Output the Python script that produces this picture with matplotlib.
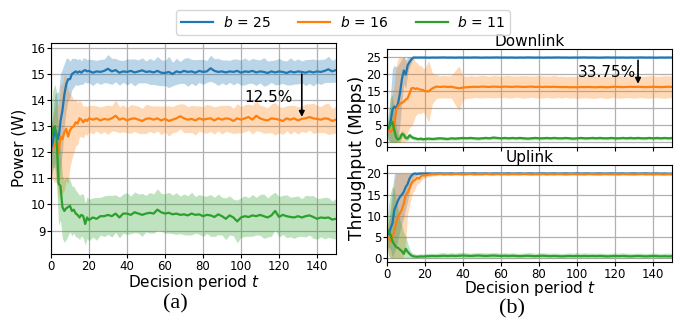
import matplotlib
matplotlib.use("Agg")
import matplotlib.pyplot as plt
import numpy as np

# decision periods: every step for t<20, every 2 steps afterwards
t_early = list(range(0, 20))
t_late = list(range(20, 151, 2))
t = np.array(t_early + t_late)

labels = ["$b$ = 25", "$b$ = 16", "$b$ = 11"]
colors = ["#1f77b4", "#ff7f0e", "#2ca02c"]

# ---------------- (a) Power (W) ----------------
pow25_mean = [12.0, 12.4, 12.9, 12.7, 12.5, 13.2, 13.6, 14.2, 14.6, 14.8,
              14.8, 15.0, 15.05, 15.1, 15.05, 15.1, 15.05, 15.12, 15.15, 15.1] + [
    15.12, 15.05, 15.10, 15.08, 15.12, 15.20, 15.10, 15.15, 15.05, 15.10, 15.08,
    15.12, 15.06, 15.10, 15.14, 15.08, 15.10, 15.06, 15.12, 15.05, 15.04, 15.08,
    15.00, 15.10, 15.06, 15.12, 15.08, 15.10, 15.05, 15.12, 15.08, 15.10, 15.22,
    15.12, 15.08, 15.10, 15.06, 15.10, 15.08, 15.12, 15.05, 15.10, 15.08, 15.12,
    15.06, 15.10, 15.08, 15.04, 15.10, 15.06, 15.10, 15.08, 15.04, 15.10, 15.06,
    15.10, 15.08, 15.05, 15.10, 15.06, 15.10, 15.08, 15.12, 15.18, 15.10, 15.15]
pow25_std = [1.0, 1.1, 1.3, 1.6, 1.8, 1.8, 1.6, 1.2, 1.0, 0.8,
             0.7, 0.6, 0.55, 0.5, 0.5, 0.5, 0.45, 0.5, 0.45, 0.45] + [
    0.45, 0.50, 0.42, 0.48, 0.45, 0.55, 0.50, 0.45, 0.48, 0.42, 0.50,
    0.45, 0.52, 0.44, 0.48, 0.42, 0.50, 0.46, 0.55, 0.50, 0.48, 0.60,
    0.45, 0.50, 0.42, 0.48, 0.55, 0.46, 0.50, 0.44, 0.48, 0.42, 0.50,
    0.46, 0.52, 0.44, 0.48, 0.42, 0.50, 0.45, 0.48, 0.52, 0.44, 0.48,
    0.50, 0.44, 0.55, 0.46, 0.42, 0.48, 0.50, 0.44, 0.46, 0.52, 0.45,
    0.48, 0.42, 0.50, 0.46, 0.52, 0.44, 0.48, 0.45, 0.50, 0.42, 0.46]

pow16_mean = [12.10, 12.15, 12.25, 12.45, 11.95, 12.60, 12.50, 12.75, 12.90, 12.60,
              12.85, 12.95, 13.00, 13.15, 13.10, 13.30, 13.25, 13.15, 13.25, 13.20] + [
    13.30, 13.25, 13.30, 13.22, 13.28, 13.25, 13.30, 13.40, 13.25, 13.30, 13.22,
    13.28, 13.30, 13.25, 13.20, 13.28, 13.30, 13.25, 13.30, 13.22, 13.28, 13.20,
    13.25, 13.30, 13.38, 13.30, 13.25, 13.28, 13.22, 13.30, 13.25, 13.28, 13.30,
    13.22, 13.30, 13.25, 13.30, 13.28, 13.20, 13.30, 13.25, 13.30, 13.35, 13.25,
    13.40, 13.30, 13.25, 13.22, 13.30, 13.28, 13.25, 13.20, 13.30, 13.25, 13.30,
    13.22, 13.28, 13.30, 13.35, 13.30, 13.28, 13.25, 13.30, 13.28, 13.20, 13.25]
pow16_std = [1.0, 1.2, 1.4, 1.6, 1.8, 2.0, 2.1, 2.2, 2.0, 1.8,
             1.4, 1.2, 1.0, 0.9, 0.8, 0.7, 0.65, 0.6, 0.55, 0.55] + [
    0.50, 0.55, 0.48, 0.52, 0.50, 0.56, 0.48, 0.60, 0.50, 0.52, 0.48,
    0.55, 0.50, 0.52, 0.48, 0.56, 0.50, 0.52, 0.48, 0.55, 0.50, 0.58,
    0.50, 0.52, 0.48, 0.55, 0.50, 0.52, 0.56, 0.48, 0.50, 0.55, 0.50,
    0.52, 0.48, 0.55, 0.50, 0.52, 0.48, 0.56, 0.50, 0.52, 0.50, 0.55,
    0.58, 0.50, 0.52, 0.48, 0.55, 0.62, 0.50, 0.52, 0.48, 0.55, 0.50,
    0.52, 0.48, 0.55, 0.50, 0.58, 0.52, 0.50, 0.55, 0.60, 0.48, 0.52]

pow11_mean = [12.60, 12.90, 13.00, 12.50, 10.80, 10.70, 9.90, 9.75, 9.85, 9.90,
              9.95, 9.75, 9.80, 9.65, 9.60, 9.50, 9.60, 9.55, 9.25, 9.50] + [
    9.40, 9.50, 9.45, 9.55, 9.55, 9.60, 9.55, 9.65, 9.50, 9.65, 9.65,
    9.60, 9.70, 9.65, 9.60, 9.65, 9.68, 9.65, 9.80, 9.70, 9.65, 9.68,
    9.62, 9.65, 9.60, 9.62, 9.58, 9.65, 9.60, 9.62, 9.55, 9.60, 9.58,
    9.52, 9.62, 9.55, 9.45, 9.58, 9.50, 9.35, 9.50, 9.55, 9.52, 9.58,
    9.55, 9.60, 9.55, 9.50, 9.58, 9.75, 9.52, 9.60, 9.55, 9.52, 9.50,
    9.55, 9.50, 9.55, 9.58, 9.52, 9.45, 9.50, 9.48, 9.50, 9.42, 9.45]
pow11_std = [1.0, 1.5, 1.6, 1.8, 1.6, 1.3, 1.2, 1.2, 1.2, 1.1,
             1.0, 0.95, 0.9, 0.9, 0.85, 0.85, 0.8, 0.85, 0.8, 0.8] + [
    0.80, 0.75, 0.82, 0.72, 0.78, 0.75, 0.80, 0.72, 0.78, 0.75, 0.80,
    0.72, 0.78, 0.75, 0.82, 0.70, 0.78, 0.75, 0.80, 0.72, 0.76, 0.78,
    0.74, 0.80, 0.72, 0.78, 0.75, 0.82, 0.70, 0.76, 0.78, 0.72, 0.80,
    0.75, 0.78, 0.72, 0.80, 0.75, 0.70, 0.82, 0.76, 0.78, 0.74, 0.80,
    0.72, 0.78, 0.85, 0.75, 0.80, 0.72, 0.78, 0.75, 0.82, 0.76, 0.80,
    0.78, 0.72, 0.80, 0.75, 0.82, 0.78, 0.74, 0.80, 0.76, 0.72, 0.78]

# ---------------- (b) Downlink throughput (Mbps) ----------------
dl25_mean = [3.5, 4.0, 6.0, 9.5, 10.5, 10.0, 11.5, 14.5, 18.5, 21.0,
             19.8, 22.5, 23.5, 24.3, 24.8, 24.8, 24.78, 24.8, 24.8, 24.78] + [
    24.80, 24.75, 24.80, 24.78, 24.80, 24.82, 24.78, 24.80, 24.76, 24.80, 24.78,
    24.80, 24.78, 24.82, 24.80, 24.76, 24.80, 24.78, 24.80, 24.82, 24.78, 24.80,
    24.78, 24.80, 24.76, 24.80, 24.78, 24.82, 24.80, 24.78, 24.80, 24.76, 24.80,
    24.78, 24.80, 24.82, 24.78, 24.80, 24.76, 24.80, 24.78, 24.80, 24.82, 24.78,
    24.80, 24.78, 24.76, 24.80, 24.82, 24.78, 24.80, 24.78, 24.80, 24.76, 24.80,
    24.78, 24.80, 24.82, 24.78, 24.80, 24.78, 24.76, 24.80, 24.78, 24.80, 24.78]
dl25_std = [1.0, 3.0, 8.0, 12.0, 12.0, 12.0, 11.0, 9.0, 6.0, 4.0,
            4.0, 2.5, 1.5, 0.8, 0.3, 0.2, 0.2, 0.2, 0.2, 0.2] + [
    0.20, 0.18, 0.20, 0.22, 0.20, 0.18, 0.20, 0.22, 0.20, 0.18, 0.20,
    0.22, 0.20, 0.18, 0.20, 0.22, 0.20, 0.18, 0.20, 0.22, 0.20, 0.18,
    0.20, 0.22, 0.20, 0.18, 0.20, 0.22, 0.20, 0.18, 0.20, 0.22, 0.20,
    0.18, 0.20, 0.22, 0.20, 0.18, 0.20, 0.22, 0.20, 0.18, 0.20, 0.22,
    0.20, 0.18, 0.20, 0.22, 0.20, 0.18, 0.20, 0.22, 0.20, 0.18, 0.20,
    0.22, 0.20, 0.18, 0.20, 0.22, 0.20, 0.18, 0.20, 0.22, 0.20, 0.18]

dl16_mean = [4.6, 3.8, 3.1, 3.6, 5.0, 9.4, 10.5, 11.4, 11.5, 11.9,
             12.5, 12.9, 14.3, 15.8, 15.9, 15.6, 15.8, 15.5, 15.4, 15.3] + [
    15.0, 14.9, 15.8, 16.3, 16.2, 16.3, 16.2, 16.25, 16.0, 15.8, 16.0,
    16.1, 16.2, 16.25, 16.2, 16.3, 16.25, 16.2, 16.3, 16.25, 16.2, 16.3,
    16.25, 16.2, 16.3, 16.25, 16.2, 16.25, 16.3, 16.2, 16.25, 16.2, 16.25,
    16.2, 16.25, 16.2, 16.15, 16.2, 16.1, 16.15, 16.1, 16.2, 16.15, 16.2,
    16.15, 16.1, 16.2, 16.15, 16.1, 16.2, 16.25, 16.2, 16.15, 16.2, 16.25,
    16.2, 16.25, 16.2, 16.15, 16.2, 16.25, 16.2, 16.15, 16.2, 16.25, 16.2]
dl16_std = [1.0, 3.0, 6.0, 10.0, 12.0, 13.0, 14.0, 14.0, 14.0, 13.5,
            12.0, 10.0, 10.0, 11.0, 10.0, 8.0, 7.5, 7.0, 7.0, 6.5] + [
    6.5, 9.0, 4.5, 3.5, 3.2, 3.3, 3.2, 3.3, 5.0, 6.5, 3.5,
    3.2, 3.3, 3.1, 3.2, 3.3, 3.2, 3.1, 3.3, 3.2, 3.1, 3.2,
    3.3, 3.2, 3.1, 3.2, 3.3, 3.2, 3.1, 3.2, 3.3, 3.2, 3.1,
    3.2, 3.3, 3.1, 3.2, 3.0, 3.2, 3.1, 3.3, 3.2, 3.1, 3.2,
    3.3, 3.2, 3.1, 3.2, 3.3, 3.1, 3.2, 3.3, 3.2, 3.1, 3.2,
    3.3, 3.2, 3.1, 3.2, 3.3, 3.2, 3.1, 3.2, 3.3, 3.2, 3.1]

dl11_mean = [3.8, 4.2, 5.2, 6.0, 3.5, 1.4, 0.8, 1.2, 2.5, 2.2,
             1.3, 1.2, 2.1, 1.6, 1.3, 1.2, 1.0, 1.0, 1.1, 0.9] + [
    1.0, 1.1, 1.0, 1.1, 1.2, 1.1, 1.0, 1.2, 1.1, 1.2, 1.3,
    1.2, 1.3, 1.2, 1.1, 1.2, 1.3, 1.2, 1.4, 1.3, 1.2, 1.3,
    1.2, 1.3, 1.2, 1.3, 1.2, 1.1, 1.2, 1.3, 1.2, 1.2, 1.3,
    1.2, 1.3, 1.2, 1.2, 1.3, 1.2, 1.1, 1.2, 1.3, 1.2, 1.2,
    1.3, 1.2, 1.3, 1.2, 1.2, 1.3, 1.2, 1.2, 1.3, 1.2, 1.3,
    1.2, 1.3, 1.2, 1.2, 1.3, 1.2, 1.3, 1.2, 1.3, 1.2, 1.3]
dl11_std = [2.0, 5.0, 8.0, 8.0, 5.0, 3.0, 1.5, 1.2, 1.0, 0.9,
            0.8, 0.7, 0.7, 0.6, 0.6, 0.5, 0.5, 0.5, 0.5, 0.5] + [
    0.45, 0.50, 0.42, 0.48, 0.45, 0.50, 0.42, 0.48, 0.45, 0.50, 0.45,
    0.42, 0.48, 0.45, 0.50, 0.42, 0.48, 0.45, 0.50, 0.42, 0.48, 0.45,
    0.50, 0.42, 0.48, 0.45, 0.50, 0.42, 0.48, 0.45, 0.50, 0.42, 0.48,
    0.45, 0.50, 0.42, 0.48, 0.45, 0.50, 0.42, 0.48, 0.45, 0.50, 0.42,
    0.48, 0.45, 0.50, 0.42, 0.48, 0.45, 0.50, 0.42, 0.48, 0.45, 0.50,
    0.42, 0.48, 0.45, 0.50, 0.42, 0.48, 0.45, 0.50, 0.42, 0.48, 0.45]

# ---------------- (b) Uplink throughput (Mbps) ----------------
ul25_mean = [4.3, 5.5, 7.0, 8.2, 11.4, 12.5, 13.7, 14.5, 15.0, 15.7,
             16.8, 17.5, 18.8, 19.5, 19.9, 20.0, 19.9, 20.0, 20.0, 20.0] + [
    20.00, 20.02, 19.98, 20.00, 20.03, 19.98, 20.00, 20.02, 19.97, 20.00, 20.02,
    19.98, 20.00, 20.03, 19.98, 20.00, 20.02, 19.97, 20.00, 20.02, 19.98, 20.00,
    20.03, 19.98, 20.00, 20.02, 19.97, 20.00, 20.02, 19.98, 20.00, 20.03, 19.98,
    20.00, 20.02, 19.97, 20.00, 20.02, 19.98, 20.00, 20.03, 19.98, 20.00, 20.02,
    19.97, 20.00, 20.02, 19.98, 20.00, 20.03, 19.98, 20.00, 20.02, 19.97, 20.00,
    20.02, 19.98, 20.00, 20.03, 19.98, 20.00, 20.02, 19.97, 20.00, 19.95, 19.98]
ul25_std = [1.5, 3.0, 5.0, 8.0, 10.0, 10.0, 9.0, 8.0, 7.0, 6.0,
            5.0, 4.0, 3.0, 2.0, 1.0, 0.5, 0.3, 0.3, 0.3, 0.25] + [
    0.20, 0.22, 0.18, 0.20, 0.22, 0.18, 0.20, 0.22, 0.18, 0.20, 0.22,
    0.18, 0.20, 0.22, 0.18, 0.20, 0.22, 0.18, 0.20, 0.22, 0.18, 0.20,
    0.22, 0.18, 0.20, 0.22, 0.18, 0.20, 0.22, 0.18, 0.20, 0.22, 0.18,
    0.20, 0.22, 0.18, 0.20, 0.22, 0.18, 0.20, 0.22, 0.18, 0.20, 0.22,
    0.18, 0.20, 0.22, 0.18, 0.20, 0.22, 0.18, 0.20, 0.22, 0.18, 0.20,
    0.22, 0.18, 0.20, 0.22, 0.18, 0.20, 0.22, 0.18, 0.20, 0.22, 0.18]

ul16_mean = [5.5, 5.0, 3.9, 5.0, 6.3, 8.5, 9.8, 10.6, 11.5, 12.9,
             14.9, 15.5, 16.5, 17.6, 18.2, 18.5, 19.0, 18.8, 19.3, 19.6] + [
    19.50, 19.70, 19.80, 19.80, 19.90, 19.80, 19.85, 19.80, 19.90, 19.85, 19.80,
    19.85, 19.90, 19.80, 19.85, 19.82, 19.90, 19.85, 19.80, 19.88, 19.82, 19.85,
    19.80, 19.88, 19.85, 19.82, 19.90, 19.85, 19.80, 19.85, 19.82, 19.88, 19.80,
    19.85, 19.82, 19.88, 19.85, 19.80, 19.85, 19.88, 19.82, 19.85, 19.80, 19.88,
    19.85, 19.82, 19.80, 19.88, 19.85, 19.82, 19.85, 19.80, 19.88, 19.85, 19.82,
    19.80, 19.85, 19.88, 19.82, 19.85, 19.80, 19.85, 19.82, 19.78, 19.85, 19.80]
ul16_std = [2.0, 4.0, 6.0, 9.0, 12.0, 12.0, 12.0, 12.0, 12.0, 12.0,
            11.0, 5.0, 4.0, 3.0, 2.5, 2.0, 1.5, 1.2, 1.0, 0.8] + [
    0.60, 0.50, 0.40, 0.35, 0.30, 0.32, 0.28, 0.30, 0.32, 0.28, 0.30,
    0.32, 0.28, 0.30, 0.32, 0.28, 0.30, 0.32, 0.28, 0.30, 0.32, 0.28,
    0.30, 0.32, 0.28, 0.30, 0.32, 0.28, 0.30, 0.32, 0.28, 0.30, 0.32,
    0.28, 0.30, 0.32, 0.28, 0.30, 0.32, 0.28, 0.30, 0.32, 0.28, 0.30,
    0.32, 0.28, 0.30, 0.32, 0.28, 0.30, 0.32, 0.28, 0.30, 0.32, 0.28,
    0.30, 0.32, 0.28, 0.30, 0.32, 0.28, 0.30, 0.32, 0.28, 0.30, 0.32]

ul11_mean = [6.0, 6.5, 5.5, 4.0, 3.2, 2.6, 2.4, 2.0, 1.6, 1.0,
             2.2, 1.5, 1.0, 0.6, 0.4, 0.35, 0.3, 0.35, 0.4, 0.35] + [
    0.40, 0.45, 0.50, 0.45, 0.50, 0.55, 0.50, 0.55, 0.50, 0.55, 0.60,
    0.55, 0.50, 0.55, 0.60, 0.55, 0.50, 0.55, 0.60, 0.55, 0.50, 0.55,
    0.50, 0.55, 0.50, 0.45, 0.50, 0.55, 0.50, 0.45, 0.50, 0.55, 0.50,
    0.45, 0.50, 0.45, 0.40, 0.45, 0.50, 0.45, 0.50, 0.45, 0.50, 0.45,
    0.50, 0.45, 0.50, 0.45, 0.40, 0.45, 0.50, 0.45, 0.50, 0.45, 0.40,
    0.45, 0.50, 0.45, 0.40, 0.45, 0.50, 0.45, 0.40, 0.45, 0.40, 0.45]
ul11_std = [3.0, 6.0, 10.0, 13.0, 13.0, 11.0, 9.0, 7.0, 6.0, 5.0,
            3.0, 2.0, 1.2, 0.8, 0.7, 0.6, 0.6, 0.6, 0.6, 0.6] + [
    0.65, 0.70, 0.62, 0.68, 0.75, 0.70, 0.65, 0.72, 0.68, 0.75, 0.80,
    0.70, 0.65, 0.72, 0.68, 0.70, 0.75, 0.68, 0.72, 0.70, 0.65, 0.72,
    0.68, 0.70, 0.65, 0.72, 0.68, 0.70, 0.75, 0.68, 0.72, 0.70, 0.65,
    0.72, 0.68, 0.70, 0.65, 0.72, 0.68, 0.70, 0.75, 0.68, 0.72, 0.70,
    0.65, 0.72, 0.68, 0.70, 0.65, 0.72, 0.68, 0.70, 0.75, 0.68, 0.72,
    0.70, 0.65, 0.72, 0.68, 0.70, 0.65, 0.72, 0.68, 0.70, 0.75, 0.68]

x_ticks = [0, 20, 40, 60, 80, 100, 120, 140]
pow_ticks = [9, 10, 11, 12, 13, 14, 15, 16]
dl_ticks = [0, 5, 10, 15, 20, 25]
ul_ticks = [0, 5, 10, 15, 20]

plt.rcParams["font.family"] = "DejaVu Sans"
plt.rcParams["mathtext.fontset"] = "dejavusans"

fig = plt.figure(figsize=(6.86, 3.25), dpi=100)
W, H = 686.0, 325.0


def ax_px(l, r, top, bot):
    return fig.add_axes([l / W, 1 - bot / H, (r - l) / W, (bot - top) / H])


ax1 = ax_px(51, 336, 42.7, 254)
ax2 = ax_px(386.7, 672.3, 49.3, 146.5)
ax3 = ax_px(386.7, 672.3, 165, 262.3)


def draw(ax, means, stds, lo=None, hi=None):
    lines = []
    for m, s, c in zip(means, stds, colors):
        m = np.array(m)
        s = np.array(s)
        low = m - s
        up = m + s
        if lo is not None:
            low = np.clip(low, lo, hi)
            up = np.clip(up, lo, hi)
        ax.fill_between(t, low, up, color=c, alpha=0.3, lw=0)
    for m, c in zip(means, colors):
        ln, = ax.plot(t, m, color=c, lw=1.6)
        lines.append(ln)
    ax.set_xlim(0, 150)
    ax.set_xticks(x_ticks)
    ax.grid(True, color="#b0b0b0", lw=0.9)
    ax.set_axisbelow(True)
    ax.tick_params(labelsize=8.5, length=2.8, pad=1.2)
    return lines


handles = draw(ax1, [pow25_mean, pow16_mean, pow11_mean], [pow25_std, pow16_std, pow11_std])
ax1.set_ylim(8.1, 16.2)
ax1.set_yticks(pow_ticks)
ax1.set_xlabel("Decision period $t$", fontsize=11)
ax1.xaxis.set_label_coords(0.5, -(273 - 254) / 211.3)
ax1.set_ylabel("Power (W)", fontsize=11)
ax1.yaxis.set_label_coords((27 - 51) / 285.0, 0.5)
ax1.annotate("", xy=(132, 13.25), xytext=(132, 15.1),
             arrowprops=dict(arrowstyle="-|>", color="k", lw=1.2, mutation_scale=8))
ax1.text(102, 14.1, "12.5%", fontsize=11, va="center", ha="left")

draw(ax2, [dl25_mean, dl16_mean, dl11_mean], [dl25_std, dl16_std, dl11_std], 0, 25)
ax2.set_ylim(-1.2, 27.2)
ax2.set_yticks(dl_ticks)
ax2.tick_params(labelbottom=False)
ax2.set_title("Downlink", fontsize=11, pad=2)
ax2.annotate("", xy=(132, 16.3), xytext=(132, 24.8),
             arrowprops=dict(arrowstyle="-|>", color="k", lw=1.2, mutation_scale=8))
ax2.text(100.6, 20.5, "33.75%", fontsize=11, va="center", ha="left")

draw(ax3, [ul25_mean, ul16_mean, ul11_mean], [ul25_std, ul16_std, ul11_std], 0, 20)
ax3.set_ylim(-1, 22)
ax3.set_yticks(ul_ticks)
ax3.set_title("Uplink", fontsize=11, pad=2)
ax3.set_xlabel("Decision period $t$", fontsize=11)
ax3.xaxis.set_label_coords(0.5, -(279.5 - 262.3) / 97.3)

fig.text(357 / W, 1 - 158 / H, "Throughput (Mbps)", rotation=90, fontsize=12.3,
         ha="center", va="center")

fig.legend(handles, labels, loc="upper center", bbox_to_anchor=(0.5, 0.99), ncol=3,
           fontsize=10, handlelength=2.3, handletextpad=0.7, columnspacing=2.0,
           borderpad=0.35, frameon=True)

fig.text(175 / W, 1 - 304 / H, "(a)", fontfamily="Liberation Serif", fontsize=16,
         ha="center", va="center")
fig.text(512 / W, 1 - 309 / H, "(b)", fontfamily="Liberation Serif", fontsize=16,
         ha="center", va="center")

fig.savefig("out.png", dpi=100)
